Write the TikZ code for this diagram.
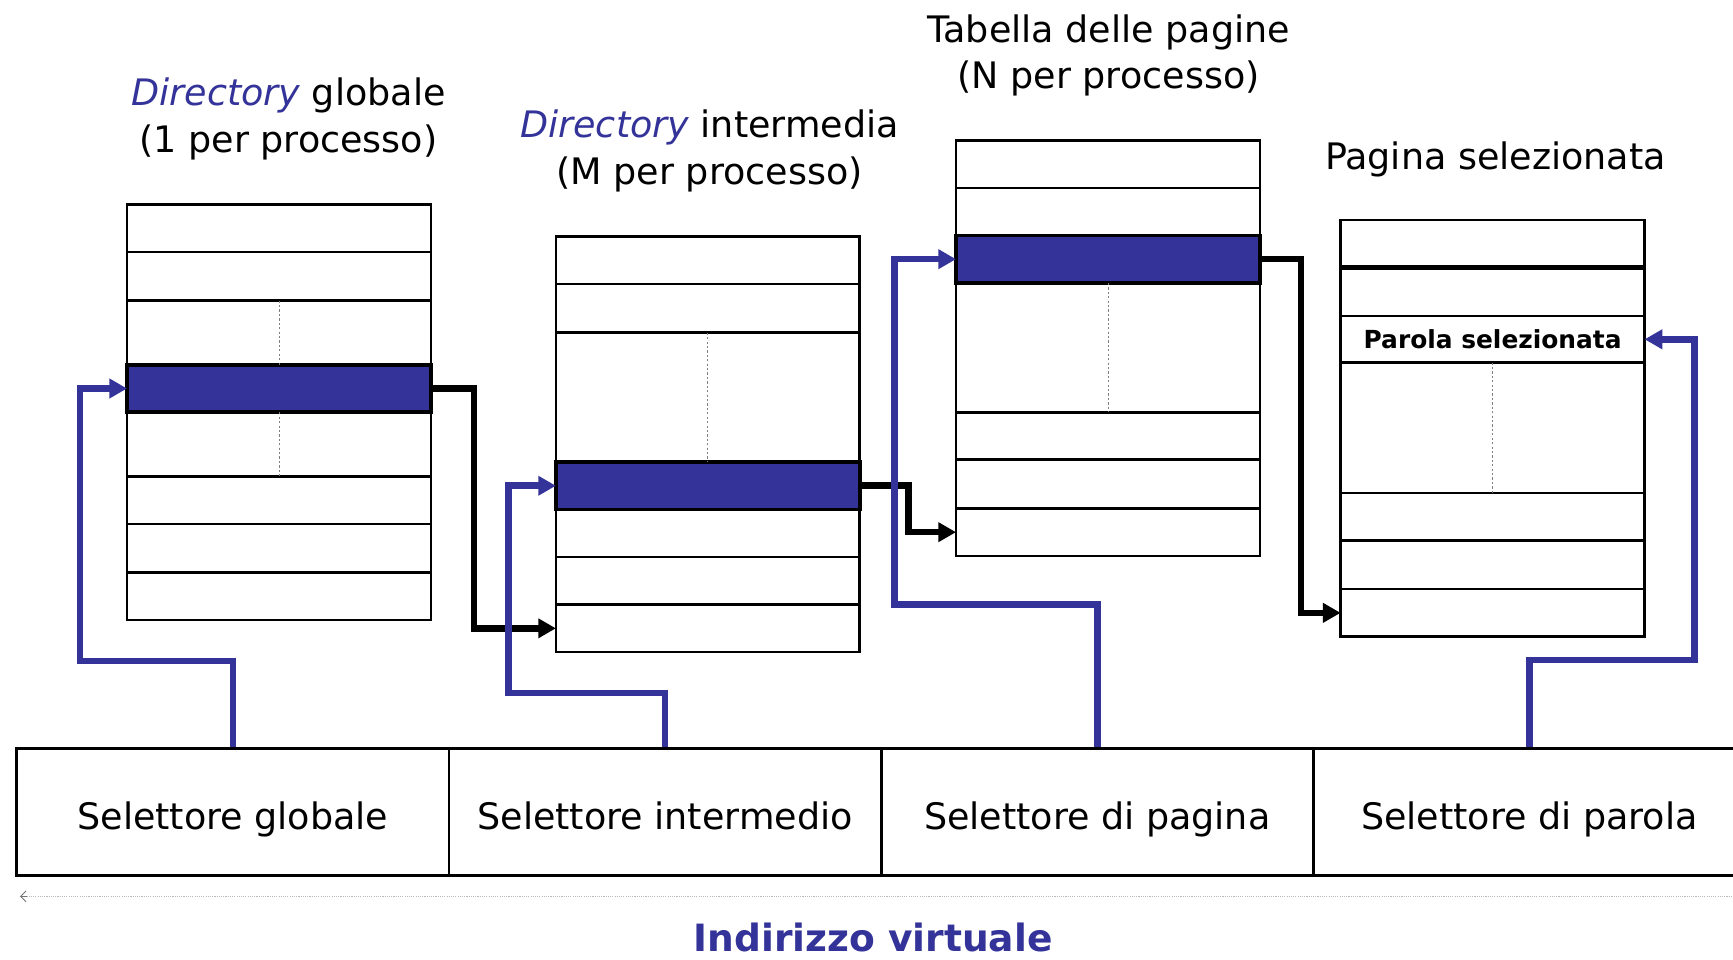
\documentclass[tikz,border=0pt]{standalone}
\usepackage{fontspec}
\setmainfont{DejaVu Sans}
\usetikzlibrary{arrows.meta}
\definecolor{pblue}{RGB}{51,51,153}
\begin{document}
\begin{tikzpicture}[x=1pt,y=-1pt,
  cell/.style={draw, line width=2.5pt, minimum width=275pt, inner sep=0pt, outer sep=0pt, anchor=north west},
  selrow/.style={cell, fill=pblue, line width=3.2pt},
  dashln/.style={gray, line width=0.8pt, dash pattern=on 2pt off 2pt},
  conn/.style={line width=6pt, line join=miter, -{Triangle[length=16pt,width=17pt]}},
  bconn/.style={conn, draw=pblue},
  kconn/.style={conn, draw=black},
  title/.style={font=\fontsize{33}{42}\selectfont, align=center, inner sep=0pt},
  selbox/.style={draw, line width=2.5pt, minimum width=391pt, minimum height=115pt, anchor=north west, inner sep=0pt, text height=38pt, text depth=7pt, font=\fontsize{33}{40}\selectfont}
]
\useasboundingbox (0,0) rectangle (1568,868);
\fill[white] (0,0) rectangle (1568,868);

% Directory globale
\node[cell, minimum height=43pt] (g1) at (115,185) {};
\node[cell, minimum height=44pt] (g2) at (115,228) {};
\node[cell, minimum height=58pt] (g3) at (115,272) {};
\node[cell, minimum height=58pt] (g5) at (115,373) {};
\node[cell, minimum height=43pt] (g6) at (115,431) {};
\node[cell, minimum height=44pt] (g7) at (115,474) {};
\node[cell, minimum height=43pt] (g8) at (115,518) {};
\node[selrow, minimum height=43pt] (g4) at (115,330) {};
\draw[dashln] (g3.north) -- (g3.south);
\draw[dashln] (g5.north) -- (g5.south);

% Directory intermedia
\node[cell, minimum height=43pt] (i1) at (503,214) {};
\node[cell, minimum height=44pt] (i2) at (503,257) {};
\node[cell, minimum height=117pt] (i3) at (503,301) {};
\node[cell, minimum height=43pt] (i5) at (503,461) {};
\node[cell, minimum height=43pt] (i6) at (503,504) {};
\node[cell, minimum height=43pt] (i7) at (503,547) {};
\node[selrow, minimum height=43pt] (i4) at (503,418) {};
\draw[dashln] (i3.north) -- (i3.south);

% Tabella delle pagine
\node[cell, minimum height=43pt] (t1) at (865,127) {};
\node[cell, minimum height=43pt] (t2) at (865,170) {};
\node[cell, minimum height=117pt] (t4) at (865,256) {};
\node[cell, minimum height=43pt] (t5) at (865,373) {};
\node[cell, minimum height=44pt] (t6) at (865,416) {};
\node[cell, minimum height=43pt] (t7) at (865,460) {};
\node[selrow, minimum height=43pt] (t3) at (865,213) {};
\draw[dashln] (t4.north) -- (t4.south);

% Pagina selezionata
\node[cell, minimum height=43pt] (p1) at (1213,199) {};
\node[cell, minimum height=44pt] (p2) at (1213,242) {};
\node[cell, minimum height=42pt, font=\bfseries\fontsize{22.5}{24}\selectfont] (p3) at (1213,286) {Parola selezionata};
\node[cell, minimum height=118pt] (p4) at (1213,328) {};
\node[cell, minimum height=43pt] (p5) at (1213,446) {};
\node[cell, minimum height=44pt] (p6) at (1213,489) {};
\node[cell, minimum height=43pt] (p7) at (1213,533) {};
\draw[line width=4.2pt] (p1.south west) -- (p1.south east);
\draw[dashln] (p4.north) -- (p4.south);

% Titles
\node[title] (tg) at (261,107.5) {\textcolor{pblue}{\itshape Directory} globale\\(1 per processo)};
\node[title] (ti) at (642,136.5) {\textcolor{pblue}{\itshape Directory} intermedia\\(M per processo)};
\node[title] (tt) at (1003,50) {Tabella delle pagine\\(N per processo)};
\node[title] (tp) at (1353,144) {Pagina selezionata};

% Virtual address
\node[selbox] (s1) at (14,676) {Selettore globale};
\node[selbox] (s2) at (405,676) {Selettore intermedio};
\node[selbox] (s3) at (796,676) {Selettore di pagina};
\node[selbox] (s4) at (1187,676) {Selettore di parola};

% Black connectors
\draw[kconn] (g4.east) -- ++(39,0) |- (i7.west);
\draw[kconn] (i4.east) -- ++(44,0) |- (t7.west);
\draw[kconn] (t3.east) -- ++(37,0) |- (p7.west);

% Blue connectors
\draw[bconn] (s1.north) -- ++(0,-78) -- ++(-138.5,0) |- (g4.west);
\draw[bconn] (s2.north) -- ++(0,-49) -- ++(-141.5,0) |- (i4.west);
\draw[bconn] (s3.north) -- ++(0,-129) -- ++(-183.5,0) |- (t3.west);
\draw[bconn] (s4.north) -- ++(0,-79) -- ++(149.5,0) |- (p3.east);

% Address extent line
\coordinate (al) at (18,811);
\coordinate (ar) at (1575,811);
\draw[gray!55, line width=0.9pt, dash pattern=on 1pt off 1pt] (al) -- (ar);
\draw[gray!90!black, line width=0.8pt, {Straight Barb[length=5pt,width=10pt]}-] (al) -- ++(6,0);
\node[font=\bfseries\fontsize{34}{40}\selectfont, text=pblue, anchor=base] (iv) at (790,861) {Indirizzo virtuale};
\end{tikzpicture}
\end{document}
